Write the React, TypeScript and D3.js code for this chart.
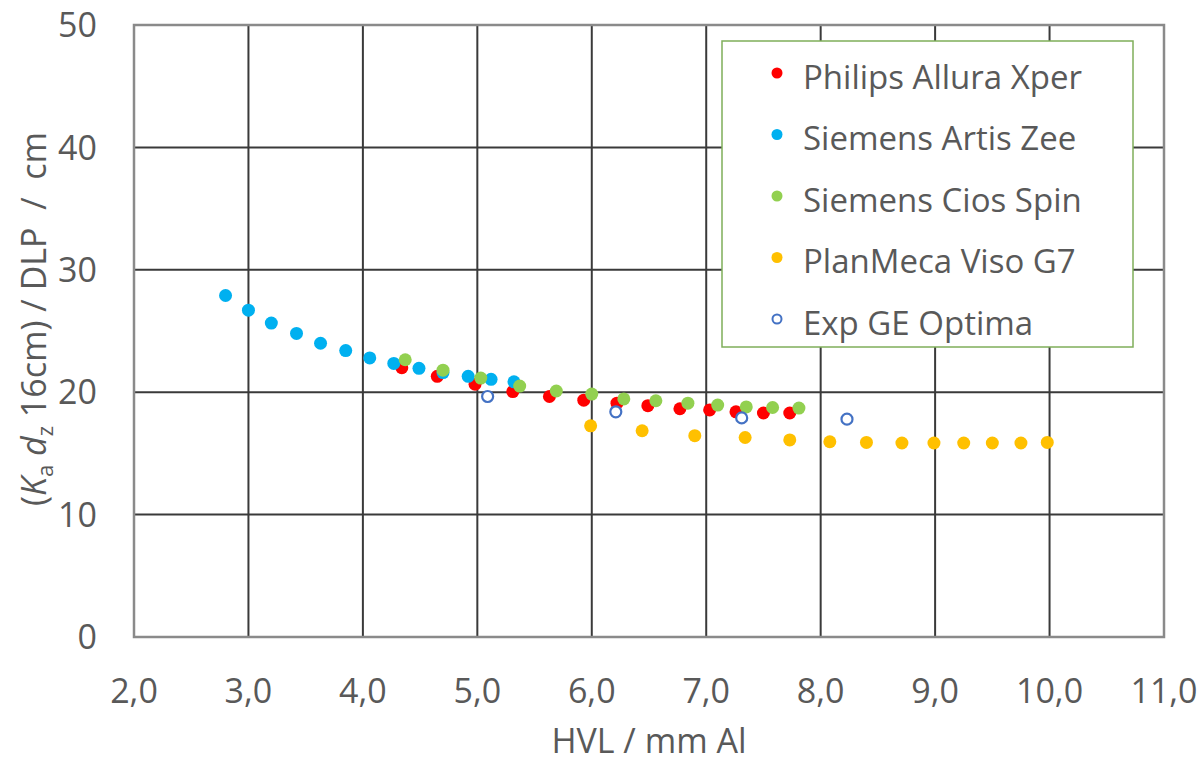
import * as d3 from "d3";
import React from "react";

// data
const philipsX = [4.34, 4.65, 4.98, 5.31, 5.63, 5.93, 6.22, 6.49, 6.77, 7.03, 7.26, 7.5, 7.73];
const philipsY = [22.0, 21.3, 20.65, 20.05, 19.65, 19.35, 19.1, 18.9, 18.65, 18.55, 18.4, 18.3, 18.3];

const artisX = [2.8, 3.0, 3.2, 3.42, 3.63, 3.85, 4.06, 4.27, 4.49, 4.7, 4.92, 5.12, 5.32];
const artisY = [27.9, 26.7, 25.65, 24.8, 24.0, 23.4, 22.8, 22.35, 21.95, 21.6, 21.3, 21.05, 20.85];

const ciosX = [4.37, 4.7, 5.03, 5.37, 5.69, 6.0, 6.28, 6.56, 6.84, 7.1, 7.35, 7.58, 7.81];
const ciosY = [22.65, 21.8, 21.15, 20.5, 20.1, 19.85, 19.45, 19.3, 19.1, 18.95, 18.8, 18.75, 18.7];

const planmecaX = [5.99, 6.44, 6.9, 7.34, 7.73, 8.08, 8.4, 8.71, 8.99, 9.25, 9.5, 9.75, 9.98];
const planmecaY = [17.25, 16.85, 16.45, 16.3, 16.1, 15.95, 15.9, 15.85, 15.85, 15.85, 15.85, 15.85, 15.9];

const geX = [5.09, 6.21, 7.31, 8.23];
const geY = [19.65, 18.4, 17.9, 17.8];

const xTicks = [2, 3, 4, 5, 6, 7, 8, 9, 10, 11];
const yTicks = [0, 10, 20, 30, 40, 50];

const seriesNames = [
  "Philips Allura Xper",
  "Siemens Artis Zee",
  "Siemens Cios Spin",
  "PlanMeca Viso G7",
  "Exp GE Optima",
];
const seriesColors = ["#ff0000", "#00b0f0", "#92d050", "#ffc000", "#4472c4"];

export default function App() {
  const width = 1203;
  const height = 762;
  const margin = { top: 25, right: 39, bottom: 125, left: 134 };
  const innerWidth = width - margin.left - margin.right;
  const innerHeight = height - margin.top - margin.bottom;

  const xScale = d3.scaleLinear().domain([2, 11]).range([0, innerWidth]);
  const yScale = d3.scaleLinear().domain([0, 50]).range([innerHeight, 0]);

  const series = [
    { xs: philipsX, ys: philipsY, open: false },
    { xs: artisX, ys: artisY, open: false },
    { xs: ciosX, ys: ciosY, open: false },
    { xs: planmecaX, ys: planmecaY, open: false },
    { xs: geX, ys: geY, open: true },
  ];

  const textColor = "#595959";
  const font = "'Open Sans', sans-serif";
  const fs = 34;

  // legend
  const legend = { x: 722 - margin.left, y: 41 - margin.top, w: 411, h: 306 };

  return (
    <svg
      width={width}
      height={height}
      style={{ position: "absolute", left: 0, top: 0, background: "#fff" }}
      fontFamily={font}
    >
      <g transform={`translate(${margin.left}, ${margin.top})`}>
        {/* grid */}
        {yTicks.map((t) => (
          <line
            key={"gy" + t}
            x1={0}
            x2={innerWidth}
            y1={yScale(t)}
            y2={yScale(t)}
            stroke="#3a3a3a"
            strokeWidth={2}
          />
        ))}
        {xTicks.map((t) => (
          <line
            key={"gx" + t}
            x1={xScale(t)}
            x2={xScale(t)}
            y1={0}
            y2={innerHeight}
            stroke="#3a3a3a"
            strokeWidth={2}
          />
        ))}
        <rect
          x={0}
          y={0}
          width={innerWidth}
          height={innerHeight}
          fill="none"
          stroke="#8a8a8a"
          strokeWidth={2.5}
        />

        {/* tick labels */}
        {yTicks.map((t) => (
          <text
            key={"ty" + t}
            x={-37}
            y={yScale(t)}
            dy="0.36em"
            textAnchor="end"
            fontSize={fs}
            fill={textColor}
          >
            {t}
          </text>
        ))}
        {xTicks.map((t) => (
          <text
            key={"tx" + t}
            x={xScale(t)}
            y={innerHeight + 53.5}
            dy="0.36em"
            textAnchor="middle"
            fontSize={fs}
            fill={textColor}
          >
            {d3.format(".1f")(t).replace(".", ",")}
          </text>
        ))}

        {/* axis titles */}
        <text
          x={innerWidth / 2}
          y={innerHeight + 104}
          dy="0.36em"
          textAnchor="middle"
          fontSize={fs}
          fill={textColor}
        >
          HVL / mm Al
        </text>
        <text
          transform={`translate(${34 - margin.left}, ${319 - margin.top}) rotate(-90)`}
          textAnchor="middle"
          dy="0.36em"
          fontSize={fs}
          fill={textColor}
        >
          (<tspan fontStyle="italic">K</tspan>
          <tspan fontSize={22} dy={7}>a</tspan>
          <tspan dy={-7}> </tspan>
          <tspan fontStyle="italic">d</tspan>
          <tspan fontSize={22} dy={7}>z</tspan>
          <tspan dy={-7}>{" 16cm) / DLP\u00a0 /\u00a0 cm"}</tspan>
        </text>

        {/* points */}
        {series.map((s, si) =>
          s.xs.map((xv, i) => (
            <circle
              key={si + "-" + i}
              cx={xScale(xv)}
              cy={yScale(s.ys[i])}
              r={s.open ? 5.5 : 6.5}
              fill={s.open ? "#fff" : seriesColors[si]}
              stroke={s.open ? seriesColors[si] : "none"}
              strokeWidth={s.open ? 2.2 : 0}
            />
          ))
        )}

        {/* legend */}
        <rect
          x={legend.x}
          y={legend.y}
          width={legend.w}
          height={legend.h}
          fill="#fff"
          stroke="#7fae5a"
          strokeWidth={1.5}
        />
        {seriesNames.map((name, i) => {
          const cy = legend.y + 33 + i * 61.5;
          return (
            <g key={name}>
              <circle
                cx={legend.x + 55}
                cy={cy - 1}
                r={i === 4 ? 4.5 : 5.5}
                fill={i === 4 ? "#fff" : seriesColors[i]}
                stroke={i === 4 ? seriesColors[i] : "none"}
                strokeWidth={i === 4 ? 2 : 0}
              />
              <text
                x={legend.x + 81}
                y={cy + 3}
                dy="0.36em"
                fontSize={33}
                fill={textColor}
              >
                {name}
              </text>
            </g>
          );
        })}
      </g>
    </svg>
  );
}
